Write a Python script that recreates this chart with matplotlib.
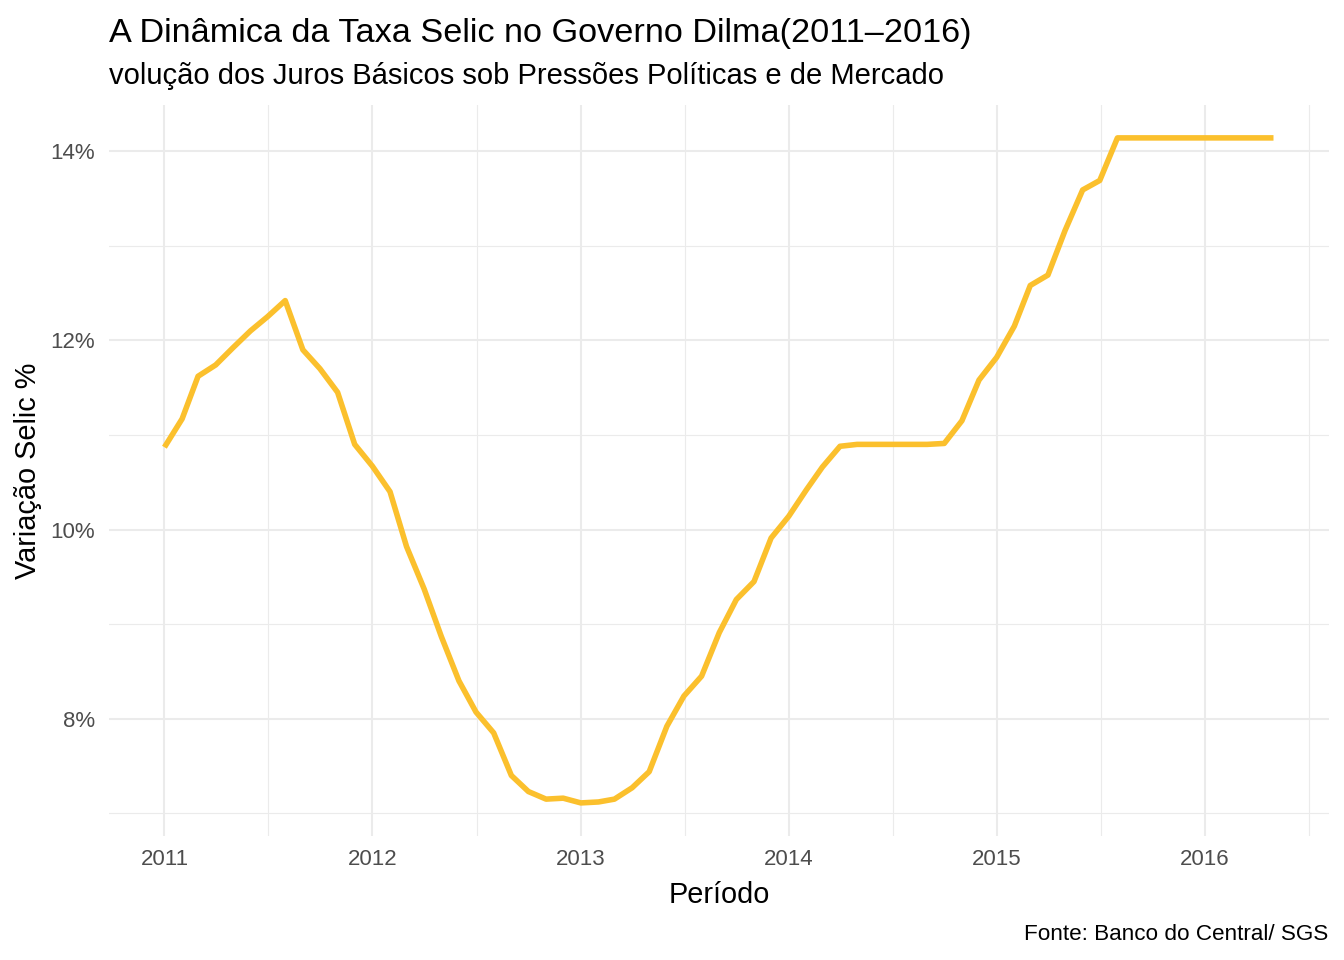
import matplotlib
matplotlib.use("Agg")
import matplotlib.pyplot as plt
import pandas as pd

plt.rcParams['font.family'] = ['Liberation Sans', 'DejaVu Sans']

# taxa selic media mensal (% a.a.), jan/2011 a mai/2016
selic = [
    10.87, 11.17, 11.62, 11.74, 11.92, 12.10, 12.25, 12.42, 11.90, 11.70, 11.45, 10.90,
    10.67, 10.40, 9.82, 9.37, 8.87, 8.40, 8.07, 7.85, 7.40, 7.23, 7.15, 7.16,
    7.11, 7.12, 7.15, 7.27, 7.44, 7.92, 8.24, 8.45, 8.91, 9.26, 9.45, 9.91,
    10.14, 10.42, 10.66, 10.88, 10.90, 10.90, 10.90, 10.90, 10.90, 10.91, 11.15, 11.58,
    11.82, 12.15, 12.58, 12.69, 13.16, 13.59, 13.69, 14.14, 14.14, 14.14, 14.14, 14.14,
    14.14, 14.14, 14.14, 14.14, 14.14,
]
datas = pd.date_range("2011-01-01", periods=len(selic), freq="MS")
anos = [2011, 2012, 2013, 2014, 2015, 2016]
y_ticks = [8, 10, 12, 14]

titulo = "A Dinâmica da Taxa Selic no Governo Dilma(2011–2016)"
subtitulo = "volução dos Juros Básicos sob Pressões Políticas e de Mercado"
fonte = "Fonte: Banco do Central/ SGS"

fig = plt.figure(figsize=(13.44, 9.6), dpi=100)
ax = fig.add_axes([0.0811, 0.129, 0.9077, 0.762])

ax.plot(datas, selic, color="#FBC02D", linewidth=4, solid_capstyle="butt", zorder=3)

# limites com expansao de 5% (estilo ggplot)
d0, d1 = datas[0], datas[-1]
span = d1 - d0
ax.set_xlim(d0 - span * 0.05, d1 + span * 0.05)
ymin, ymax = min(selic), max(selic)
yr = ymax - ymin
ax.set_ylim(ymin - yr * 0.05, ymax + yr * 0.05)

major_x = [pd.Timestamp(f"{a}-01-01") for a in anos]
minor_x = [major_x[i] + (major_x[i + 1] - major_x[i]) / 2 for i in range(len(major_x) - 1)]
minor_x.append(major_x[-1] + (major_x[-1] - major_x[-2]) / 2)
ax.set_xticks(major_x)
ax.set_xticklabels([str(a) for a in anos])
ax.set_xticks(minor_x, minor=True)
ax.set_yticks(y_ticks)
ax.set_yticklabels([f"{v}%" for v in y_ticks])
ax.set_yticks([7, 9, 11, 13], minor=True)

ax.grid(which="major", color="#EBEBEB", linewidth=1.5)
ax.grid(which="minor", color="#EBEBEB", linewidth=0.8)
ax.set_axisbelow(True)
for s in ax.spines.values():
    s.set_visible(False)
ax.tick_params(which="both", length=0)
ax.tick_params(axis="x", labelsize=16, labelcolor="#4D4D4D", pad=9)
ax.tick_params(axis="y", labelsize=16, labelcolor="#4D4D4D", pad=10)

ax.set_xlabel("Período", fontsize=20.8, labelpad=8)
ax.set_ylabel("Variação Selic %", fontsize=20.8, labelpad=6)

fig.text(109 / 1344, 1 - 42 / 960, titulo, fontsize=24.7, ha="left", va="baseline")
fig.text(109 / 1344, 1 - 84 / 960, subtitulo, fontsize=21, ha="left", va="baseline")
fig.text(1328 / 1344, 1 - 940 / 960, fonte, fontsize=16.2, ha="right", va="baseline")

fig.savefig("out.png", dpi=100, facecolor="white")
